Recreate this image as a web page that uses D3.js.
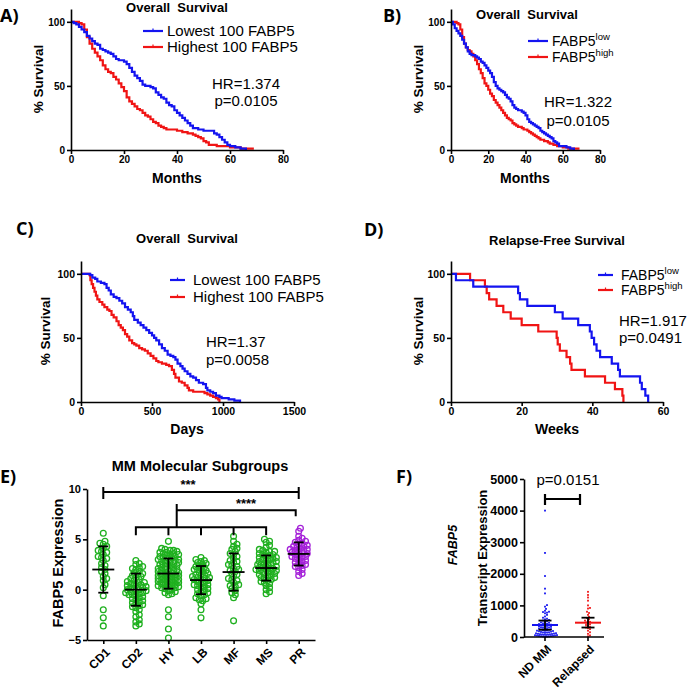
<!DOCTYPE html>
<html><head><meta charset="utf-8">
<script src="https://cdn.jsdelivr.net/npm/d3@7"></script>
<style>
body{margin:0;background:#fff;}
svg text{font-family:"Liberation Sans",Arial,sans-serif;}
.pl{font-family:"Open Sans","Liberation Sans",sans-serif !important;font-weight:700;font-size:18px;}
</style></head><body>
<svg id="c" width="693" height="690"></svg>
<script>
// ---------- DATA ----------
// Panel A (months)
const aBlueT = [0,1,2,3,4,5,6,7,8,9,10,11,12,13,14,15,16,17,18,20,21,22,23,24,25,26,27,28,30,31,32,33,34,35,36,37,38,39,40,41,42,43,44,45,46,48,50,54,55,56,57,58,59,60,62,64,66];
const aBlueS = [100,99,98,96,94,92,89,87,85,83,82,79,78,77,76,75,73,71,70,69,67,64,61,58,56,54,51,50,49,48,45,43,41,40,37,35,34,31,29,27,25,23,21,19,17,16,15,13,12,10,8,6,4,3,2,1,0];
const aRedT = [0,3,4,5,6,7,8,9,10,11,12,13,14,15,16,17,18,19,20,21,22,23,24,25,26,27,28,29,30,31,32,33,34,35,36,40,42,44,46,47,48,49,50,51,52,55,60,64,69];
const aRedS = [100,99,98,94,88,83,79,76,73,70,66,63,61,60,57,55,52,49,46,41,38,36,34,32,31,29,27,26,24,22,21,19,18,17,16,15,14,13,12,11,10,9,7,6,4,3,2,1,1];
// Panel B (months)
const bBlueT = [0,1,2,3,4,5,6,7,8,9,10,11,13,14,15,16,17,18,19,20,21,22,23,24,25,26,27,28,29,30,31,32,33,34,35,36,38,39,40,41,42,43,44,45,46,47,48,49,50,51,52,53,54,55,56,57,58,62,64,66];
const bBlueS = [100,98,95,93,91,89,86,83,80,77,75,74,73,72,71,69,68,66,64,62,60,57,53,50,48,47,46,45,43,41,40,38,35,33,32,31,30,29,27,24,22,21,20,19,18,17,15,14,13,12,11,10,9,7,6,5,3,2,1,0];
const bRedT = [0,3,4,5,6,7,8,9,10,11,12,13,14,15,16,17,18,19,20,21,22,23,24,25,26,27,28,29,30,31,32,33,34,35,36,38,39,41,42,43,44,45,46,47,48,50,52,53,55,57,60,63,69];
const bRedS = [100,99,98,94,88,83,80,78,77,75,73,70,67,63,60,56,52,50,47,44,42,39,37,35,33,31,29,27,25,24,23,21,20,19,18,17,16,15,14,13,12,11,10,9,8,7,6,5,4,3,2,1,1];
// Panel C (days)
const cBlueT = [0,65,80,100,115,140,165,180,195,210,230,250,270,290,310,330,350,365,375,400,420,440,460,480,500,515,530,550,570,590,610,630,650,665,680,700,715,730,750,770,790,810,830,860,880,890,910,930,950,975,990,1040,1080,1120];
const cBlueS = [100,99,97,96,94,93,92,89,87,84,82,81,79,77,74,72,70,67,64,62,60,58,56,54,52,50,48,45,42,40,37,36,35,33,30,28,26,24,22,20,19,17,15,14,11,9,8,7,5,4,3,2,1,0];
const cRedT = [0,60,66,75,85,95,105,115,130,150,165,185,200,215,230,250,265,280,295,310,325,340,360,375,390,410,430,450,470,490,510,530,545,570,600,620,640,655,665,690,710,730,750,760,790,870,890,910,930,950,965,975];
const cRedS = [100,99,95,92,89,86,83,80,78,76,74,72,71,68,66,63,60,58,56,53,51,48,46,45,44,42,41,40,38,36,34,32,31,30,29,28,25,22,19,16,15,13,11,9,8,7,6,5,4,3,2,0];
// Panel D (weeks)
const dBlueT = [0,1.4,6.3,19,19.5,21.6,29.4,31.6,36,39.3,39.8,40.5,41.2,42.2,45.5,47.3,47.8,53.5,54,55,55.8];
const dBlueS = [100,95,90,85,80,75,70,65,60,55,50,45,40,35,30,25,20,15,10,5,0];
const dRedT = [0,5.4,9.6,10.1,10.8,12.9,14.8,16.9,20,24.7,29.9,30.2,30.8,32.7,33.7,34.1,37.9,43.6,46.4,48.5,48.8];
const dRedS = [100,95,90,85,80,75,70,65,60,55,50,45,40,35,30,25,20,15,10,5,0];

// Panel E
const eCategories = ["CD1","CD2","HY","LB","MF","MS","PR"];
const eCD1 = [5.6,4.8,4.6,4.5,4.3,4.1,3.9,3.8,3.7,3.5,3.3,3.2,3.1,2.9,2.6,2.4,2.2,2.0,1.8,1.6,1.3,1.1,0.9,0.5,0.2,-0.6,-2.0,-2.8,-3.6];
const eCD2 = [2.9,2.6,2.5,2.3,2.1,2.0,1.8,1.7,1.5,1.4,1.3,1.2,1.1,1.0,0.9,0.8,0.7,0.6,0.5,0.5,0.4,0.3,0.2,0.2,0.1,0.0,0.0,-0.1,-0.2,-0.2,-0.3,-0.4,-0.5,-0.5,-0.6,-0.7,-0.8,-0.9,-1.0,-1.1,-1.2,-1.3,-1.4,-1.5,-1.6,-1.8,-2.0,-2.2,-2.5,-2.7,-3.0,-3.2,-3.4,-3.6,0.3,0.7,-0.3,1.6,-1.7,2.2];
const eHY = [4.8,4.1,4.0,3.9,3.9,3.8,3.7,3.7,3.6,3.5,3.5,3.4,3.3,3.3,3.2,3.1,3.0,3.0,2.9,2.8,2.8,2.7,2.6,2.6,2.5,2.4,2.4,2.3,2.2,2.2,2.1,2.0,2.0,1.9,1.9,1.8,1.7,1.7,1.6,1.6,1.5,1.5,1.4,1.4,1.3,1.3,1.2,1.2,1.1,1.1,1.0,1.0,0.9,0.9,0.8,0.8,0.7,0.7,0.6,0.5,0.5,0.4,0.4,0.3,0.2,0.2,0.1,0.0,-0.1,-0.2,-0.3,-0.4,-0.5,-2.0,-2.7,-3.9,-4.8,3.6,3.2,2.5,1.8,1.0,0.6,0.3,2.9,2.1,1.4];
const eLB = [3.2,3.0,2.9,2.8,2.7,2.5,2.4,2.3,2.2,2.1,2.0,1.9,1.8,1.7,1.6,1.5,1.4,1.3,1.2,1.1,1.0,1.0,0.9,0.8,0.7,0.6,0.5,0.4,0.3,0.2,0.1,0.0,-0.1,-0.2,-0.3,-0.5,-0.6,-0.8,-0.9,-1.0,-1.1,-1.4,-2.0,-2.8,2.6,1.5,0.5,-0.4,1.2,2.0];
const eMF = [5.3,4.8,4.5,4.3,4.1,4.0,3.8,3.6,3.3,3.1,2.9,2.7,2.5,2.3,2.1,2.0,1.8,1.6,1.5,1.3,1.1,0.9,0.7,0.5,0.3,0.1,-0.1,-0.3,-0.5,-0.8,-3.1,2.4,1.9,1.0,0.4,3.5,2.8];
const eMS = [5.0,4.8,4.7,4.4,4.2,4.0,3.9,3.8,3.7,3.6,3.5,3.4,3.3,3.2,3.1,3.0,2.9,2.8,2.7,2.6,2.5,2.4,2.3,2.2,2.1,2.0,1.9,1.8,1.7,1.6,1.5,1.4,1.3,1.2,1.1,1.0,0.9,0.8,0.6,0.4,0.2,0.0,-0.2,-0.4,3.0,2.8,2.5,2.2,2.0,1.8,1.5,1.2,3.5,2.6,2.3,1.9,0.7,3.8,3.2,2.1];
const ePR = [6.1,5.8,5.3,5.1,4.9,4.8,4.7,4.5,4.4,4.3,4.2,4.1,4.0,3.9,3.8,3.7,3.6,3.5,3.4,3.3,3.2,3.1,3.0,2.9,2.8,2.6,2.4,2.3,2.2,2.0,1.8,1.6,1.4,4.6,4.0,3.6,3.3,2.7,2.5,3.9,4.3];
const eMean = [2.0,0.0,1.6,0.95,1.75,2.15,3.55];
const eLow  = [-0.3,-1.6,0.1,-0.45,-0.1,0.9,2.4];
const eHigh = [4.3,1.6,3.1,2.35,3.6,3.4,4.7];
const eYTicks = [-5,0,5,10];

// Panel F
const fCategories = ["ND MM","Relapsed"];
const fNDMM = [4000,2660,1930,1530,1380,1010,960,890,830,800,790,770,750,700,650,610,580,560,540,520,500,480,460,450,430,420,410,400,390,380,370,360,350,340,330,320,310,300,290,280,270,260,250,240,230,220,210,200,195,190,180,170,160,150,145,140,130,120,115,110,100,95,90,85,80,75,70,65,60,55,50,45,40,35,30,25,20,15,10,5];
const fRelapsed = [1430,1330,1250,1150,1000,920,900,800,760,700,640,600,560,520,500,480,460,430,400,380,350,320,300,280,250,200,150,100,50,20];
const fMean = [380,453];
const fLow = [230,300];
const fHigh = [520,611];
const fYTicks = [0,1000,2000,3000,4000,5000];

// ---------- DRAW ----------
const svg = d3.select("#c");
const BLUE="#1414f0", RED="#f01414", GREEN="#1fb01f", PURPLE="#a421d8";

function styleAxis(g, fs){
  g.attr("font-size",fs).attr("font-weight","bold").attr("font-family","Liberation Sans, Arial, sans-serif");
  g.selectAll("path,line").attr("stroke","#000").attr("stroke-width",1.6);
  return g;
}

function km(cfg){
  const g = svg.append("g");
  const x = d3.scaleLinear().domain(cfg.xd).range(cfg.xr);
  const y = d3.scaleLinear().domain([0,110]).range(cfg.yr);
  const line = d3.line().x(d=>x(d[0])).y(d=>y(d[1])).curve(d3.curveStepAfter);
  cfg.series.forEach(s=>{
    g.append("path").datum(d3.zip(s.t,s.s)).attr("d",line)
      .attr("fill","none").attr("stroke",s.c).attr("stroke-width",2.2).attr("stroke-linejoin","miter");
  });
  styleAxis(g.append("g").attr("transform",`translate(0,${y(0)})`)
    .call(d3.axisBottom(x).tickValues(cfg.xt).tickFormat(d3.format("d")).tickSize(4).tickSizeOuter(0).tickPadding(2)), cfg.fs);
  styleAxis(g.append("g").attr("transform",`translate(${x(0)},0)`)
    .call(d3.axisLeft(y).tickValues([0,50,100]).tickSize(4).tickSizeOuter(0).tickPadding(2)), cfg.fs);
  // titles
  g.append("text").attr("x",cfg.title[0]).attr("y",cfg.title[1]).attr("text-anchor","middle")
    .attr("font-weight","bold").attr("font-size",13).style("white-space","pre").text(cfg.title[2]);
  g.append("text").attr("x",cfg.xlab[0]).attr("y",cfg.xlab[1]).attr("text-anchor","middle")
    .attr("font-weight","bold").attr("font-size",14).text(cfg.xlab[2]);
  g.append("text").attr("transform",`translate(${cfg.ylab[0]},${cfg.ylab[1]}) rotate(-90)`)
    .attr("text-anchor","middle").attr("dy","0.35em").attr("font-weight","bold").attr("font-size",13.5).text("% Survival");
  g.append("text").attr("class","pl").attr("x",cfg.pl[0]).attr("y",cfg.pl[1]).text(cfg.pl[2]);
  // legend
  cfg.legend.forEach((L,i)=>{
    const ly = cfg.leg.y + i*cfg.leg.dy;
    g.append("line").attr("x1",cfg.leg.x).attr("x2",cfg.leg.x+cfg.leg.w).attr("y1",ly).attr("y2",ly)
      .attr("stroke",L.c).attr("stroke-width",2.2);
    g.append("line").attr("x1",cfg.leg.x+cfg.leg.w/2).attr("x2",cfg.leg.x+cfg.leg.w/2).attr("y1",ly-2.5).attr("y2",ly+1)
      .attr("stroke",L.c).attr("stroke-width",1.2);
    const t = g.append("text").attr("x",cfg.leg.x+cfg.leg.w+cfg.leg.gap).attr("y",ly+5.3).attr("font-size",cfg.leg.fs);
    t.append("tspan").text(L.t);
    if(L.sup) t.append("tspan").attr("font-size",cfg.leg.fs*0.68).attr("dy",-6).text(L.sup);
  });
  cfg.hr.lines.forEach((s,i)=>{
    g.append("text").attr("x",cfg.hr.x).attr("y",cfg.hr.y+i*cfg.hr.dy).attr("text-anchor",cfg.hr.anchor)
      .attr("font-size",15).text(s);
  });
}

km({xd:[0,80], xr:[71,283], yr:[150,9], xt:[0,20,40,60,80], fs:10,
  series:[{t:aRedT,s:aRedS,c:RED},{t:aBlueT,s:aBlueS,c:BLUE}],
  title:[177,12,"Overall  Survival"], xlab:[177,183,"Months"], ylab:[38,79], pl:[0,22,"A)"],
  leg:{x:143,y:31,dy:16,w:20,gap:4,fs:15},
  legend:[{t:"Lowest 100 FABP5",c:BLUE},{t:"Highest 100 FABP5",c:RED}],
  hr:{x:246,y:89,dy:17,anchor:"middle",lines:["HR=1.374","p=0.0105"]}});

km({xd:[0,80], xr:[451,600], yr:[150,9], xt:[0,20,40,60,80], fs:10,
  series:[{t:bRedT,s:bRedS,c:RED},{t:bBlueT,s:bBlueS,c:BLUE}],
  title:[527,19,"Overall  Survival"], xlab:[525,183,"Months"], ylab:[418,79], pl:[383,22,"B)"],
  leg:{x:528,y:41,dy:16,w:20,gap:4,fs:14},
  legend:[{t:"FABP5",sup:"low",c:BLUE},{t:"FABP5",sup:"high",c:RED}],
  hr:{x:578,y:107,dy:19,anchor:"middle",lines:["HR=1.322","p=0.0105"]}});

km({xd:[0,1500], xr:[81,294], yr:[402,261], xt:[0,500,1000,1500], fs:10.5,
  series:[{t:cRedT,s:cRedS,c:RED},{t:cBlueT,s:cBlueS,c:BLUE}],
  title:[187,243,"Overall  Survival"], xlab:[187,434,"Days"], ylab:[45,331], pl:[16,235,"C)"],
  leg:{x:170,y:280,dy:17,w:15,gap:8,fs:15},
  legend:[{t:"Lowest 100 FABP5",c:BLUE},{t:"Highest 100 FABP5",c:RED}],
  hr:{x:206,y:347,dy:18,anchor:"start",lines:["HR=1.37","p=0.0058"]}});

km({xd:[0,60], xr:[451,663], yr:[402,261], xt:[0,20,40,60], fs:10.5,
  series:[{t:dRedT,s:dRedS,c:RED},{t:dBlueT,s:dBlueS,c:BLUE}],
  title:[557,245,"Relapse-Free Survival"], xlab:[557,434,"Weeks"], ylab:[418,331], pl:[364,236,"D)"],
  leg:{x:598,y:275,dy:15,w:15,gap:8,fs:14},
  legend:[{t:"FABP5",sup:"low",c:BLUE},{t:"FABP5",sup:"high",c:RED}],
  hr:{x:619,y:326,dy:17,anchor:"start",lines:["HR=1.917","p=0.0491"]}});

// swarm layout helper (x offsets only)
function swarm(vals, yS, minDist, maxOff, step){
  const placed=[], out=new Array(vals.length);
  const order = vals.map((v,i)=>i).sort((a,b)=>vals[a]-vals[b]);
  const nK = 2*Math.floor(maxOff/step);
  for(const i of order){
    const py = yS(vals[i]);
    let best=0, bestScore=-1;
    for(let k=0;k<=nK;k++){
      const off = (k%2?1:-1)*Math.ceil(k/2)*step;
      let md=Infinity;
      for(const p of placed){ if(Math.abs(p.y-py)<minDist){ const d=Math.hypot(p.x-off,p.y-py); if(d<md) md=d; } }
      if(md>=minDist){ best=off; bestScore=Infinity; break; }
      if(md>bestScore){ bestScore=md; best=off; }
    }
    placed.push({x:best,y:py}); out[i]=best;
  }
  return out;
}

// ---------- Panel E ----------
(function(){
  const g = svg.append("g");
  const x = d3.scalePoint().domain(eCategories).range([87,315]).padding(0.5);
  const y = d3.scaleLinear().domain([-5,10]).range([640,489]);
  const groups = [eCD1,eCD2,eHY,eLB,eMF,eMS,ePR];
  groups.forEach((vals,gi)=>{
    const offs = swarm(vals,y,3.4,11,1.7);
    const col = gi===6?PURPLE:GREEN;
    g.append("g").selectAll("circle").data(vals).join("circle")
      .attr("cx",(d,i)=>x(eCategories[gi])+offs[i]).attr("cy",d=>y(d)).attr("r",2.9)
      .attr("fill","none").attr("stroke",col).attr("stroke-width",1.3);
  });
  // mean ± SD
  eCategories.forEach((c,i)=>{
    const cx=x(c);
    g.append("line").attr("x1",cx).attr("x2",cx).attr("y1",y(eLow[i])).attr("y2",y(eHigh[i])).attr("stroke","#000").attr("stroke-width",1.8);
    g.append("line").attr("x1",cx-11).attr("x2",cx+11).attr("y1",y(eMean[i])).attr("y2",y(eMean[i])).attr("stroke","#000").attr("stroke-width",1.8);
    [eLow[i],eHigh[i]].forEach(v=>g.append("line").attr("x1",cx-5).attr("x2",cx+5).attr("y1",y(v)).attr("y2",y(v)).attr("stroke","#000").attr("stroke-width",1.8));
  });
  // axes
  const xa = styleAxis(g.append("g").attr("transform",`translate(0,${y(-5)})`)
    .call(d3.axisBottom(x).tickSize(4).tickSizeOuter(0).tickPadding(3)), 12);
  xa.selectAll(".tick text").attr("text-anchor","end").attr("y",0).attr("x",0).attr("dy","0.35em")
    .attr("transform","translate(4,10) rotate(-45)");
  styleAxis(g.append("g").attr("transform",`translate(87,0)`)
    .call(d3.axisLeft(y).tickValues(eYTicks).tickSize(4).tickSizeOuter(0).tickPadding(2)), 11);
  // brackets
  const P = (d)=>g.append("path").attr("d",d).attr("stroke","#000").attr("stroke-width",2).attr("fill","none");
  const xc1=x("CD1"), xp=x("PR"), xc2=x("CD2"), xms=x("MS");
  P(`M${xc1},${y(10.2)}V${y(9.0)}M${xc1},${y(9.7)}H${xp}M${xp},${y(10.2)}V${y(9.0)}`);
  const xm = (x("HY")+x("LB"))/2 - 8;
  P(`M${xm},${y(8.5)}V${y(6.2)}M${xm},${y(7.9)}H${xp-3}V${y(7.3)}`);
  P(`M${xc2},${y(5.4)}V${y(6.2)}H${xms}V${y(5.4)}`);
  ["HY","LB","MF"].forEach(c=>P(`M${x(c)},${y(6.2)}V${y(5.4)}`));
  g.append("text").attr("x",188).attr("y",y(9.7)-3).attr("text-anchor","middle").attr("font-size",13).attr("font-weight","bold").text("***");
  g.append("text").attr("x",246).attr("y",y(7.9)-2).attr("text-anchor","middle").attr("font-size",13).attr("font-weight","bold").text("****");
  g.append("text").attr("x",200).attr("y",471).attr("text-anchor","middle").attr("font-weight","bold").attr("font-size",14.5).text("MM Molecular Subgroups");
  g.append("text").attr("transform",`translate(58,563) rotate(-90)`).attr("text-anchor","middle").attr("dy","0.35em")
    .attr("font-weight","bold").attr("font-size",14.5).text("FABP5 Expression");
  g.append("text").attr("class","pl").attr("x",0).attr("y",483).text("E)");
})();

// ---------- Panel F ----------
(function(){
  const g = svg.append("g");
  const x = d3.scalePoint().domain(fCategories).range([545,588]);
  const y = d3.scaleLinear().domain([0,5000]).range([637,479]);
  const cols=[BLUE,RED];
  [fNDMM,fRelapsed].forEach((vals,gi)=>{
    const offs = swarm(vals,y,2.0,12,1.0);
    g.append("g").selectAll("rect").data(vals).join("rect")
      .attr("x",(d,i)=>x(fCategories[gi])+offs[i]-0.9).attr("y",d=>y(d)-0.9).attr("width",1.8).attr("height",1.8)
      .attr("fill",cols[gi]);
  });
  fCategories.forEach((c,i)=>{
    const cx=x(c);
    g.append("line").attr("x1",cx-13).attr("x2",cx+13).attr("y1",y(fMean[i])).attr("y2",y(fMean[i])).attr("stroke",cols[i]).attr("stroke-width",2);
    g.append("line").attr("x1",cx).attr("x2",cx).attr("y1",y(fLow[i])).attr("y2",y(fHigh[i])).attr("stroke","#000").attr("stroke-width",1.8);
    [fLow[i],fHigh[i]].forEach(v=>g.append("line").attr("x1",cx-6.5).attr("x2",cx+6.5).attr("y1",y(v)).attr("y2",y(v)).attr("stroke","#000").attr("stroke-width",1.8));
  });
  // axes
  g.append("line").attr("x1",524).attr("x2",604).attr("y1",y(0)).attr("y2",y(0)).attr("stroke","#000").attr("stroke-width",1.6);
  fCategories.forEach(c=>{
    g.append("line").attr("x1",x(c)).attr("x2",x(c)).attr("y1",y(0)).attr("y2",y(0)+4).attr("stroke","#000").attr("stroke-width",1.6);
    g.append("text").attr("transform",`translate(${x(c)+4},${y(0)+10}) rotate(-45)`).attr("text-anchor","end").attr("dy","0.35em")
      .attr("font-weight","bold").attr("font-size",12).text(c);
  });
  styleAxis(g.append("g").attr("transform",`translate(524,0)`)
    .call(d3.axisLeft(y).tickValues(fYTicks).tickFormat(d3.format("d")).tickSize(4).tickSizeOuter(0).tickPadding(2)), 12.5);
  // bracket
  const bx1 = x("ND MM"), bx2 = x("Relapsed")-8, by=499;
  g.append("path").attr("d",`M${bx1},${by-5}V${by+6}M${bx1},${by}H${bx2}M${bx2},${by-5}V${by+6}`).attr("stroke","#000").attr("stroke-width",2.2).attr("fill","none");
  g.append("text").attr("x",568).attr("y",485).attr("text-anchor","middle").attr("font-size",15).text("p=0.0151");
  g.append("text").attr("transform",`translate(482,558) rotate(-90)`).attr("text-anchor","middle").attr("dy","0.35em")
    .attr("font-weight","bold").attr("font-size",13).text("Transcript Expression");
  g.append("text").attr("transform",`translate(453,545) rotate(-90)`).attr("text-anchor","middle").attr("dy","0.35em")
    .attr("font-weight","bold").attr("font-style","italic").attr("font-size",12.5).text("FABP5");
  g.append("text").attr("class","pl").attr("x",396).attr("y",483).text("F)");
})();
</script>
</body></html>
